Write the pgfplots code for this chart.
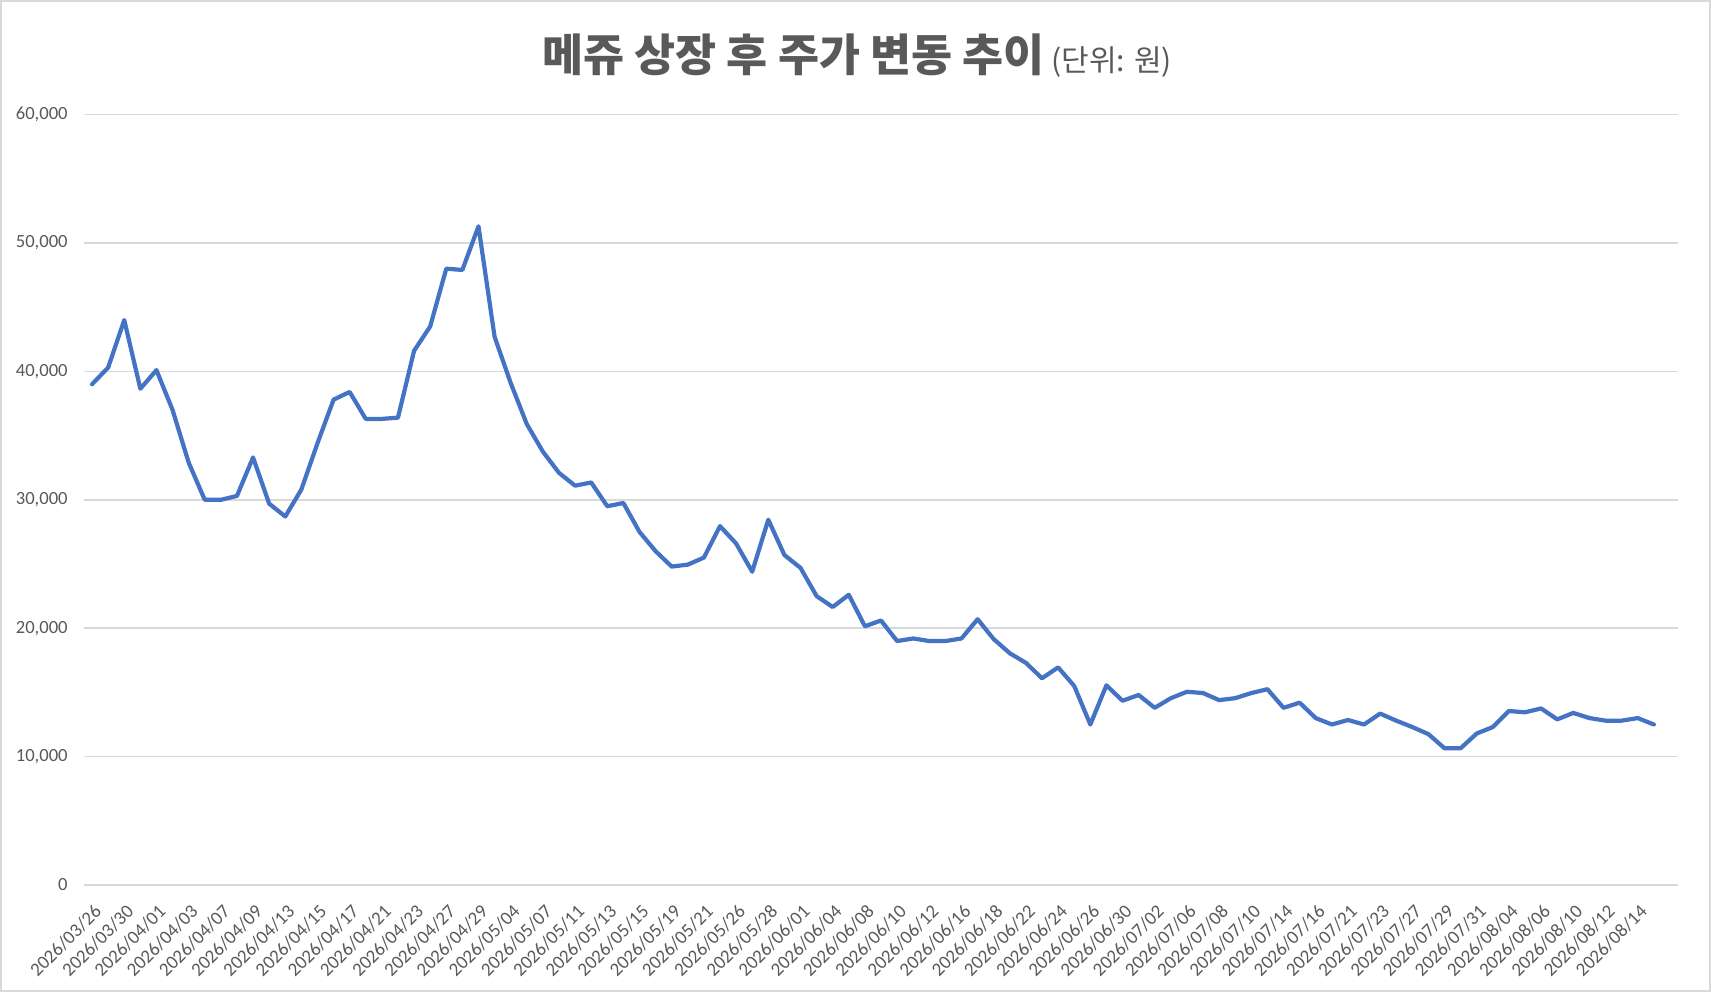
\documentclass[border=0pt]{standalone}
\usepackage{fontspec}
\setmainfont{Carlito}
\newfontfamily\cjk{Noto Sans CJK KR}
\usepackage{pgfplots}
\pgfplotsset{compat=1.18}
\definecolor{linecol}{HTML}{4472C4}
\definecolor{gridcol}{HTML}{D9D9D9}
\definecolor{txtcol}{HTML}{595959}
\begin{document}
\begin{tikzpicture}
\useasboundingbox (0,0) rectangle (855.5pt,496pt);
\draw[gridcol, line width=1pt] (0.5pt,0.5pt) rectangle (855pt,495.5pt);
\node[anchor=base, text=txtcol, inner sep=0pt] at (428.5pt,460pt)
  {\cjk\fontsize{22.3pt}{26pt}\selectfont\bfseries 메쥬 상장 후 주가 변동 추이\fontsize{15pt}{18pt}\selectfont\mdseries\ (단위: 원)};
\begin{axis}[
  at={(42pt,53.5pt)}, anchor=south west,
  scale only axis, width=797pt, height=385.2pt,
  xmin=-0.5, xmax=98.5, ymin=0, ymax=60000,
  axis line style={draw=none},
  major tick length=0pt,
  ymajorgrids, grid style={gridcol, line width=0.8pt},
  ytick={0,10000,20000,30000,40000,50000,60000},
  scaled y ticks=false,
  /pgf/number format/assume math mode=true,
  yticklabel style={/pgf/number format/.cd, fixed, 1000 sep={,}, /tikz/.cd,
    font=\fontsize{9.3pt}{11pt}\selectfont, text=txtcol, inner sep=0pt, xshift=-8pt},
  xtick={0,2,...,96},
  xticklabels={2026/03/26,2026/03/30,2026/04/01,2026/04/03,2026/04/07,2026/04/09,2026/04/13,2026/04/15,2026/04/17,2026/04/21,2026/04/23,2026/04/27,2026/04/29,2026/05/04,2026/05/07,2026/05/11,2026/05/13,2026/05/15,2026/05/19,2026/05/21,2026/05/26,2026/05/28,2026/06/01,2026/06/04,2026/06/08,2026/06/10,2026/06/12,2026/06/16,2026/06/18,2026/06/22,2026/06/24,2026/06/26,2026/06/30,2026/07/02,2026/07/06,2026/07/08,2026/07/10,2026/07/14,2026/07/16,2026/07/21,2026/07/23,2026/07/27,2026/07/29,2026/07/31,2026/08/04,2026/08/06,2026/08/10,2026/08/12,2026/08/14},
  xticklabel style={xshift=0.5pt, yshift=-9pt, rotate=45, anchor=north east, inner sep=0pt,
    font=\fontsize{9.5pt}{11pt}\selectfont, text=txtcol},
  clip=false,
]
\addplot[linecol, line width=2.1pt, line join=round, line cap=round, mark=none] coordinates {
(0,39000) (1,40300) (2,44000) (3,38650) (4,40100) (5,37000) (6,32900) (7,30000) (8,30000) (9,30300)
(10,33300) (11,29700) (12,28700) (13,30800) (14,34400) (15,37800) (16,38400) (17,36300) (18,36300) (19,36400)
(20,41600) (21,43500) (22,48000) (23,47900) (24,51300) (25,42700) (26,39100) (27,35900) (28,33750) (29,32100)
(30,31100) (31,31350) (32,29500) (33,29750) (34,27500) (35,26000) (36,24800) (37,24950) (38,25500) (39,27950)
(40,26600) (41,24400) (42,28450) (43,25700) (44,24700) (45,22500) (46,21650) (47,22600) (48,20150) (49,20600)
(50,19000) (51,19200) (52,19000) (53,19000) (54,19200) (55,20700) (56,19150) (57,18050) (58,17300) (59,16100)
(60,16950) (61,15500) (62,12500) (63,15550) (64,14350) (65,14800) (66,13800) (67,14550) (68,15050) (69,14950)
(70,14400) (71,14550) (72,14950) (73,15250) (74,13800) (75,14200) (76,13000) (77,12500) (78,12850) (79,12500)
(80,13350) (81,12800) (82,12300) (83,11750) (84,10650) (85,10650) (86,11800) (87,12300) (88,13550) (89,13450)
(90,13750) (91,12900) (92,13400) (93,13000) (94,12800) (95,12800) (96,13000) (97,12500)
};
\end{axis}
\end{tikzpicture}
\end{document}
